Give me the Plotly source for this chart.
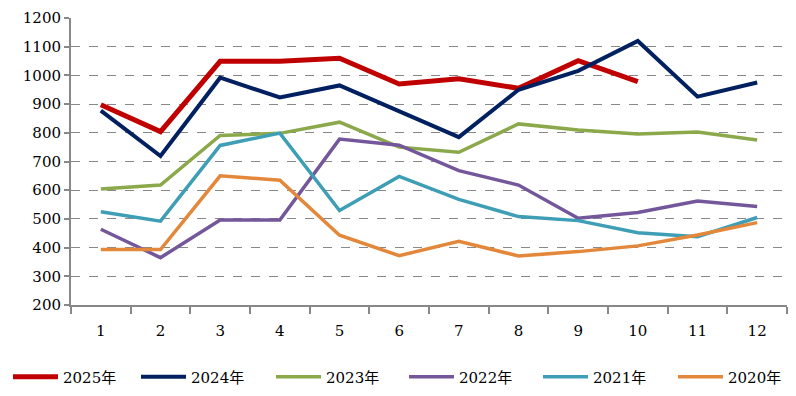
import plotly.graph_objects as go

months = [1, 2, 3, 4, 5, 6, 7, 8, 9, 10, 11, 12]
month_labels = ["1", "2", "3", "4", "5", "6", "7", "8", "9", "10", "11", "12"]
y2025 = [898, 804, 1049, 1049, 1060, 970, 988, 955, 1051, 978]
y2024 = [877, 719, 992, 923, 965, 875, 785, 950, 1016, 1120, 926, 975]
y2023 = [604, 618, 791, 798, 837, 750, 732, 831, 810, 796, 803, 775]
y2022 = [464, 365, 496, 496, 778, 757, 668, 618, 502, 522, 562, 543]
y2021 = [525, 492, 756, 799, 529, 648, 568, 508, 494, 452, 438, 505]
y2020 = [393, 393, 650, 635, 443, 372, 422, 371, 386, 406, 444, 487]

series = [
    ("2025年", y2025, "#C00000", 5),
    ("2024年", y2024, "#002060", 4),
    ("2023年", y2023, "#8BA94A", 3.5),
    ("2022年", y2022, "#73579A", 3.5),
    ("2021年", y2021, "#3E9EB5", 3.5),
    ("2020年", y2020, "#E3873A", 3.5),
]

FONT = "DejaVu Serif, Noto Sans CJK SC"
legend_px = [0, 128, 263, 396, 530, 665]
W, H = 788, 388

fig = go.Figure()
layout_legends = {}
for i, (name, vals, color, w) in enumerate(series):
    key = "legend" if i == 0 else f"legend{i+1}"
    fig.add_trace(go.Scatter(
        x=months[:len(vals)], y=vals, name=name, mode="lines",
        line=dict(color=color, width=w), legend=key,
    ))
    layout_legends[key] = dict(
        orientation="h", xref="container", yref="container",
        x=legend_px[i] / W, y=0.049, xanchor="left", yanchor="middle",
        font=dict(family=FONT, size=15, color="#000"),
        itemwidth=45, bgcolor="rgba(0,0,0,0)",
    )

fig.update_layout(
    width=W, height=H,
    margin=dict(l=63, r=9, t=10, b=91, autoexpand=False),
    plot_bgcolor="white", paper_bgcolor="white",
    font=dict(family=FONT, size=15, color="#000"),
    showlegend=True,
    **layout_legends,
)
fig.update_xaxes(
    range=[0.5, 12.5], tickvals=months, ticktext=month_labels, ticks="",
    minor=dict(tickvals=[m - 0.5 for m in months] + [12.5], ticks="outside",
               ticklen=7, tickcolor="#888", tickwidth=2, showgrid=False),
    showline=True, linecolor="#888", linewidth=2, showgrid=False,
    ticklabelstandoff=11, zeroline=False,
)
fig.update_yaxes(
    range=[200, 1200], dtick=100, tick0=200,
    ticks="outside", ticklen=5, tickcolor="#888", tickwidth=2,
    showline=True, linecolor="#888", linewidth=2,
    showgrid=True, gridcolor="#888", griddash="dash", gridwidth=1,
    zeroline=False,
)

fig.write_html("out.html")
